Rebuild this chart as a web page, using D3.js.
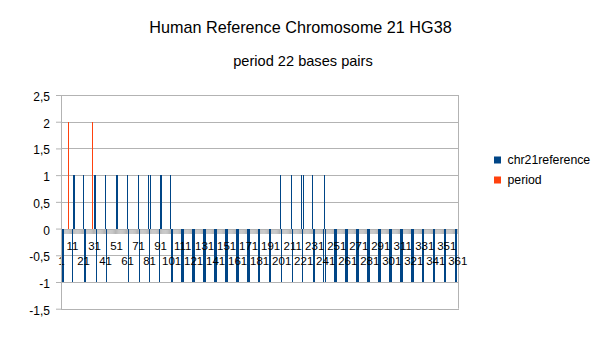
<!DOCTYPE html>
<html>
<head>
<meta charset="utf-8">
<script src="https://cdn.jsdelivr.net/npm/d3@7/dist/d3.min.js"></script>
<style>
  body { margin: 0; background: #fff; }
  text { font-family: "Liberation Sans", Arial, sans-serif; fill: #000; }
</style>
</head>
<body>
<div id="chart"></div>
<script>
// chromosome 21 reference, one value per base (1..361)
var chr21reference = [
   1,-1,-1, 1, 1,-1, 1,-1,-1, 1,  -1, 1, 1,-1, 1,-1,-1, 1,-1, 1,
   1,-1,-1, 1,-1, 1, 1,-1, 1,-1,   1, 1,-1,-1, 1,-1, 1, 1,-1,-1,
   1,-1,-1, 1, 1,-1, 1,-1, 1,-1,   1, 1,-1, 1,-1,-1, 1,-1, 1, 1,
   1,-1,-1, 1,-1, 1,-1, 1, 1, 1,   1,-1, 1,-1, 1,-1,-1, 1,-1, 1,
  -1, 1,-1, 1,-1, 1, 1,-1, 1,-1,   1, 1,-1,-1, 1,-1, 1, 1,-1, 1,
  -1,-1, 1,-1, 1,
  -1,-1,-1,-1,-1,-1,-1,-1,-1,-1,  -1,-1,-1,-1,-1,-1,-1,-1,-1,-1,
  -1,-1,-1,-1,-1,-1,-1,-1,-1,-1,  -1,-1,-1,-1,-1,-1,-1,-1,-1,-1,
  -1,-1,-1,-1,-1,-1,-1,-1,-1,-1,  -1,-1,-1,-1,-1,-1,-1,-1,-1,-1,
  -1,-1,-1,-1,-1,-1,-1,-1,-1,-1,  -1,-1,-1,-1,-1,-1,-1,-1,-1,-1,
  -1,-1,-1,-1,-1,-1,-1,-1,-1,-1,
   1,-1, 1,-1, 1,
  -1, 1,-1, 1, 1,-1, 1,-1,-1, 1,  -1, 1, 1,-1, 1,-1,-1, 1, 1,-1,
   1,-1, 1,-1, 1, 1,-1, 1, 1,-1,  -1, 1,-1, 1, 1,-1,-1, 1,-1, 1,
  -1, 1,-1, 1,
  -1,-1,-1,-1,-1,-1,-1,-1,-1,-1,  -1,-1,-1,-1,-1,-1,-1,-1,-1,-1,
  -1,-1,-1,-1,-1,-1,-1,-1,-1,-1,  -1,-1,-1,-1,-1,-1,-1,-1,-1,-1,
  -1,-1,-1,-1,-1,-1,-1,-1,-1,-1,  -1,-1,-1,-1,-1,-1,-1,-1,-1,-1,
  -1,-1,-1,-1,-1,-1,-1,-1,-1,-1,  -1,-1,-1,-1,-1,-1,-1,-1,-1,-1,
  -1,-1,-1,-1,-1,-1,-1,-1,-1,-1,  -1,-1,-1,-1,-1,-1,-1,-1,-1,-1,
  -1,-1,-1,-1,-1,-1,-1,-1,-1,-1,  -1,-1,-1,-1,-1,-1,-1
];

// period series: only two non-zero points, 22 bases apart
var periodBases = [7, 29];
var periodValues = [2, 2];

var xLabels = [1, 11, 21, 31, 41, 51, 61, 71, 81, 91, 101, 111, 121, 131, 141, 151, 161, 171, 181,
               191, 201, 211, 221, 231, 241, 251, 261, 271, 281, 291, 301, 311, 321, 331, 341, 351, 361];
var yTicks = [-1.5, -1, -0.5, 0, 0.5, 1, 1.5, 2, 2.5];

var seriesNames = ["chr21reference", "period"];
var colors = ["#004586", "#ff420e"];

var width = 611, height = 343,
    categories = chr21reference.map(function(d, i) { return i + 1; }),

    svg = d3.select("#chart")
        .append("svg")
        .attr("width", width)
        .attr("height", height),

    x = d3.scaleBand()
        .domain(categories)
        .range([61, 458.35])
        .padding(0),

    y = d3.scaleLinear()
        .domain([-1.5, 2.5])
        .range([308.7, 95]),

    bw = x.bandwidth(),
    fmt = d3.formatLocale({decimal: ",", thousands: ".", grouping: [3], currency: ["", ""], minus: "-"}).format("");

// grid
svg.append("g")
    .selectAll("line")
    .data(yTicks)
    .enter().append("line")
    .attr("x1", 61)
    .attr("x2", Math.floor(x.range()[1]) + 1)
    .attr("y1", function(d) { return Math.round(y(d)) + 0.5; })
    .attr("y2", function(d) { return Math.round(y(d)) + 0.5; })
    .attr("stroke", "#b3b3b3");

svg.append("line")
    .attr("x1", Math.floor(x.range()[1]) + 0.5)
    .attr("x2", Math.floor(x.range()[1]) + 0.5)
    .attr("y1", y(2.5))
    .attr("y2", y(-1.5))
    .attr("stroke", "#b3b3b3");

// category tick marks (dense -> grey band)
var xAxis = svg.append("g")
    .attr("transform", "translate(0," + Math.round(y(0)) + ")")
    .call(d3.axisBottom(x).tickSize(5).tickSizeOuter(0).tickFormat(""));
xAxis.select(".domain").remove();
xAxis.selectAll("line").attr("stroke", "#b3b3b3");

// bars
svg.append("g")
    .attr("shape-rendering", "crispEdges")
    .selectAll("rect")
    .data(chr21reference)
    .enter().append("rect")
    .attr("x", function(d, i) { return x(categories[i]) + bw / 4; })
    .attr("width", bw / 4)
    .attr("y", function(d) { return y(Math.max(0, d)); })
    .attr("height", function(d) { return Math.abs(y(d) - y(0)); })
    .attr("fill", colors[0]);

svg.append("g")
    .attr("shape-rendering", "crispEdges")
    .selectAll("rect")
    .data(periodValues)
    .enter().append("rect")
    .attr("x", function(d, i) { return x(periodBases[i]) + bw / 2; })
    .attr("width", Math.max(1, bw / 4))
    .attr("y", function(d) { return y(Math.max(0, d)); })
    .attr("height", function(d) { return Math.abs(y(d) - y(0)); })
    .attr("fill", colors[1]);

// category labels, staggered on two rows
svg.append("g")
    .selectAll("text")
    .data(xLabels)
    .enter().append("text")
    .attr("x", function(d) { return x(d) + bw / 2; })
    .attr("y", function(d, i) { return y(0) + (i % 2 ? 21.5 : 36.5); })
    .attr("text-anchor", "middle")
    .attr("font-size", "11.5px")
    .text(function(d) { return d; });

// y axis
var yAxis = svg.append("g")
    .attr("transform", "translate(61,0)")
    .call(d3.axisLeft(y).tickValues(yTicks).tickSize(5).tickSizeOuter(0).tickPadding(6).tickFormat(fmt));
yAxis.selectAll("line, path").attr("stroke", "#b3b3b3");
yAxis.selectAll("text")
    .attr("dy", "0.46em")
    .attr("font-size", "12px")
    .style("font-family", "'Liberation Sans', Arial, sans-serif")
    .attr("fill", "#000");

// legend
var legend = svg.append("g")
    .selectAll("g")
    .data(seriesNames)
    .enter().append("g")
    .attr("transform", function(d, i) { return "translate(494," + (156.5 + i * 20) + ")"; });
legend.append("rect")
    .attr("width", 7)
    .attr("height", 7)
    .attr("fill", function(d, i) { return colors[i]; });
legend.append("text")
    .attr("x", 13.5)
    .attr("y", 7)
    .attr("font-size", "12.3px")
    .text(function(d) { return d; });

// titles
svg.append("text")
    .attr("x", 300.5)
    .attr("y", 32.5)
    .attr("text-anchor", "middle")
    .attr("font-size", "16.2px")
    .text("Human Reference Chromosome 21 HG38");

svg.append("text")
    .attr("x", 303)
    .attr("y", 65.5)
    .attr("text-anchor", "middle")
    .attr("font-size", "14.6px")
    .text("period 22 bases pairs");
</script>
</body>
</html>
